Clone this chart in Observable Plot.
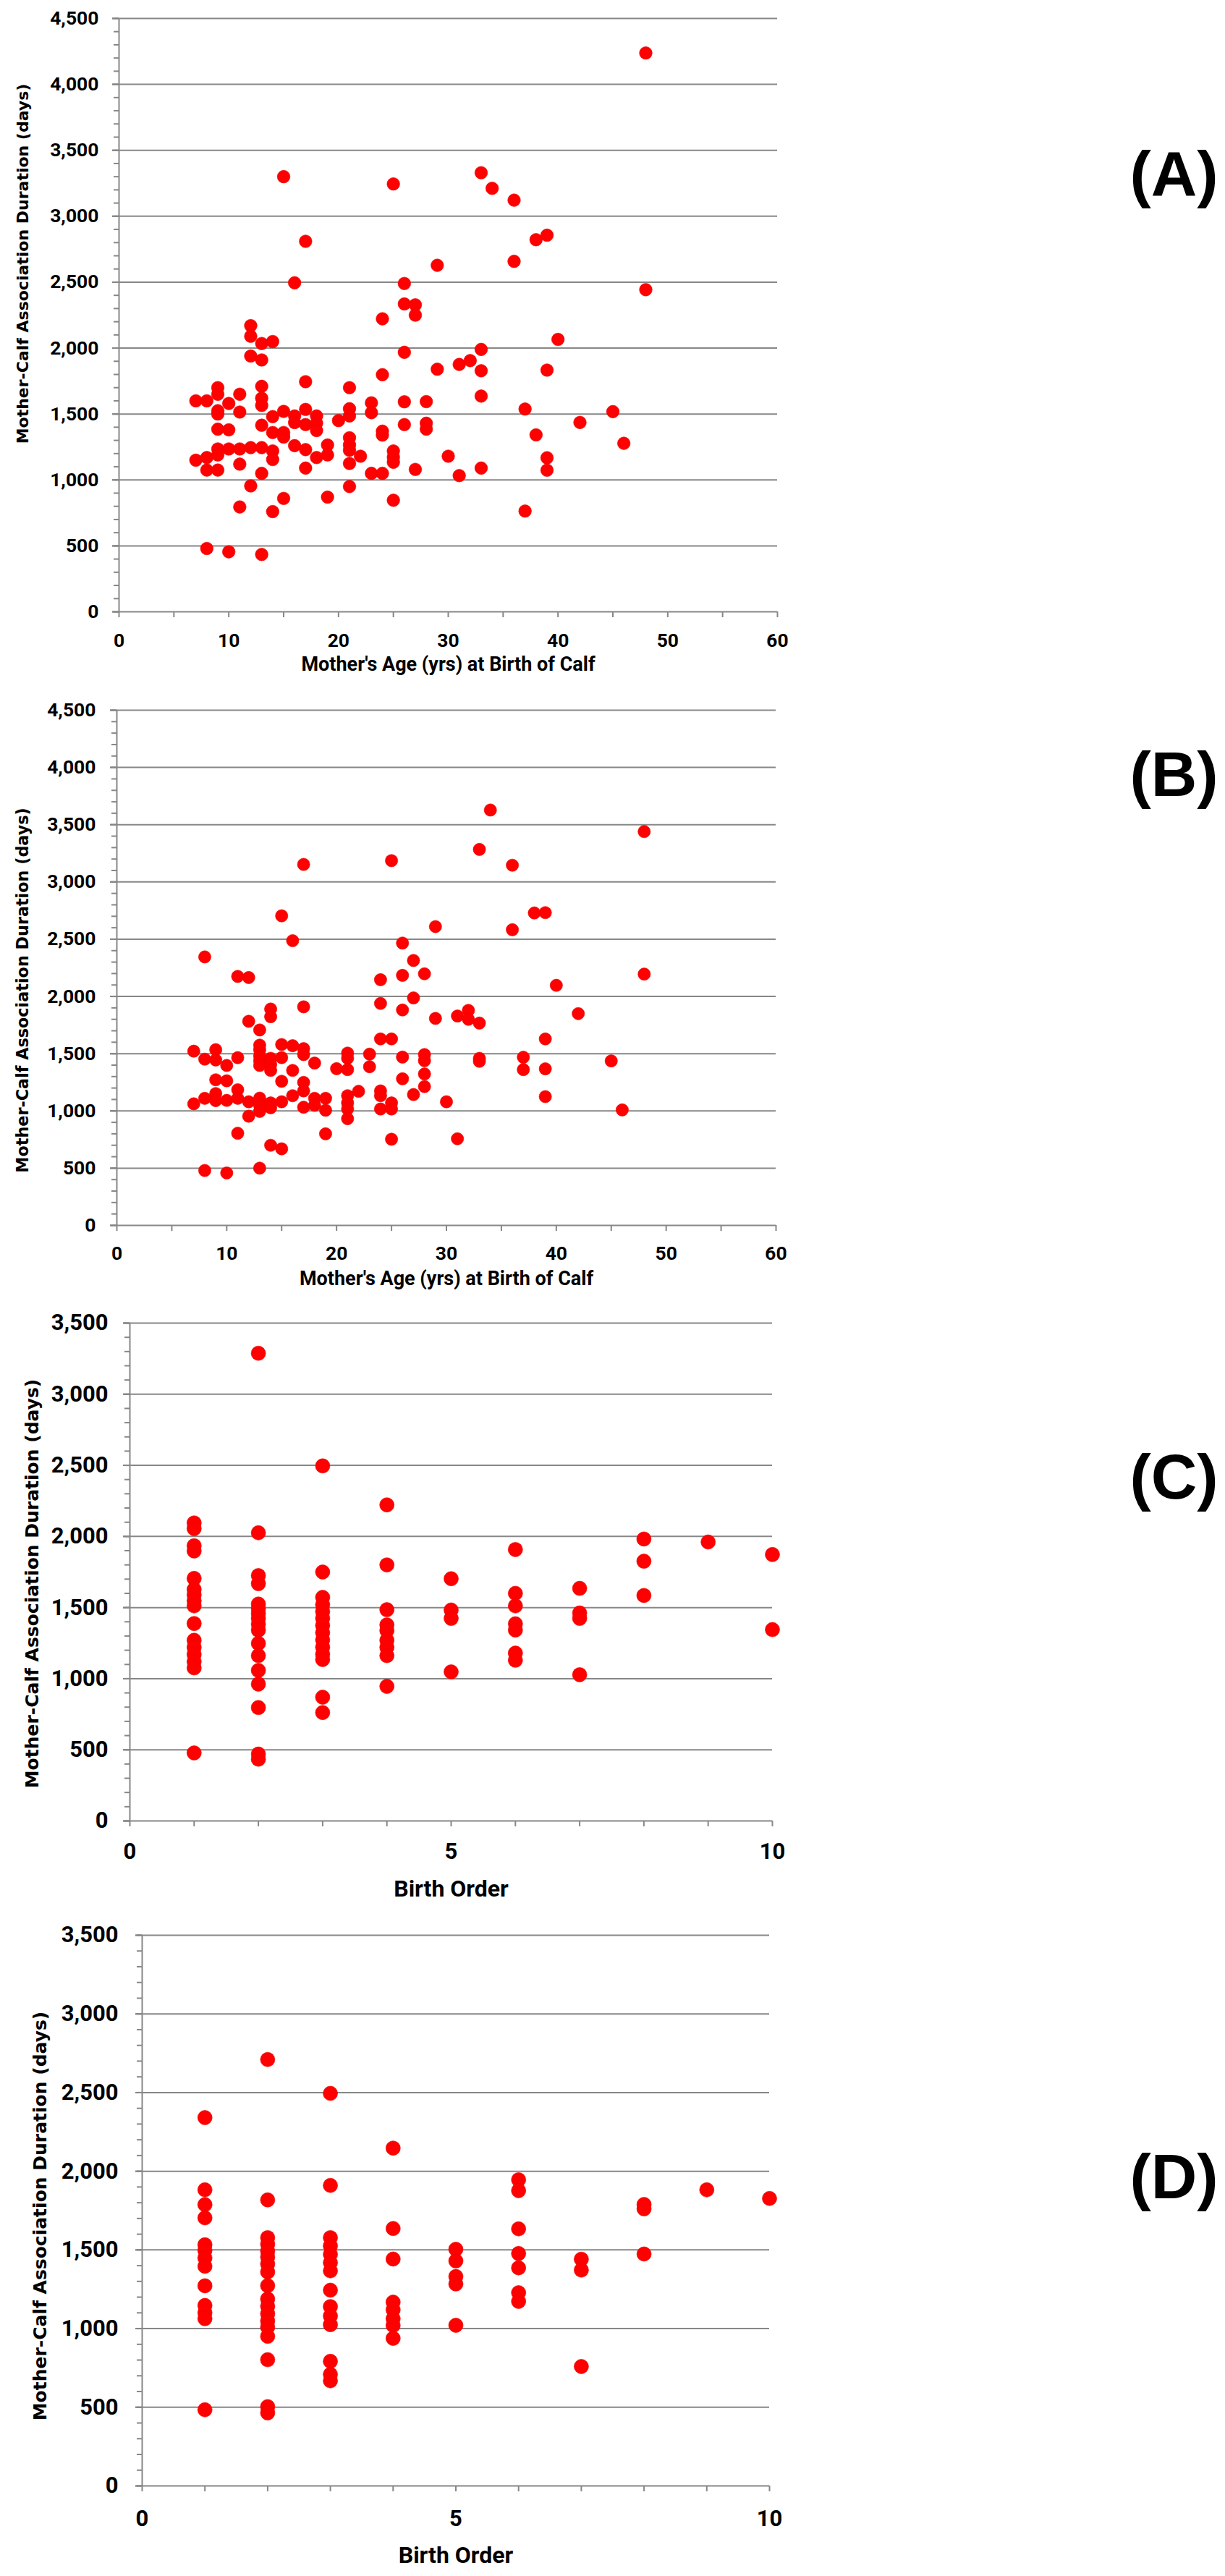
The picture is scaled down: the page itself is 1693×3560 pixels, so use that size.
<!DOCTYPE html>
<html>
<head>
<meta charset="utf-8">
<script src="https://cdn.jsdelivr.net/npm/d3@7"></script>
<script src="https://cdn.jsdelivr.net/npm/@observablehq/plot@0.6"></script>
<style>
  html, body { margin: 0; padding: 0; background: #fff; }
  #chart { width: 1693px; }
  #chart svg { display: block; }
</style>
</head>
<body>
<div id="chart"></div>
<script>
// ---------- Data ----------
// Panel A: mother's age at birth of calf vs association duration
const ageA = [7, 8, 9, 10, 11, 12, 13, 14, 15, 16, 17, 18, 19, 20, 21, 22, 23, 24, 25, 26, 27, 28, 29, 30, 31, 32, 33, 34, 36, 37, 38, 39, 40, 42, 45, 46, 48];
const durA = [
  [1600, 1150],
  [1600, 1170, 1075, 480],
  [1700, 1650, 1525, 1500, 1385, 1235, 1190, 1075],
  [1580, 1380, 1235, 455],
  [1650, 1515, 1235, 1120, 795],
  [2170, 2090, 1940, 1245, 955],
  [2035, 1910, 1710, 1620, 1565, 1415, 1245, 1050, 435],
  [2050, 1480, 1360, 1220, 1155, 760],
  [3300, 1520, 1360, 1325, 860],
  [2495, 1485, 1435, 1260],
  [2810, 1745, 1535, 1420, 1230, 1090],
  [1485, 1430, 1375, 1170],
  [1265, 1190, 870],
  [1450],
  [1700, 1540, 1485, 1320, 1265, 1225, 1125, 950],
  [1180],
  [1585, 1510, 1050],
  [2222, 1798, 1370, 1340, 1050],
  [3245, 1220, 1172, 1134, 846],
  [2490, 2335, 1968, 1593, 1420],
  [2328, 2250, 1080],
  [1594, 1430, 1385],
  [2628, 1840],
  [1180],
  [1876, 1033],
  [1905],
  [3330, 1990, 1828, 1636, 1090],
  [3212],
  [3122, 2658],
  [1538, 764],
  [2822, 1342],
  [2856, 1833, 1168, 1074],
  [2066],
  [1436],
  [1518],
  [1278],
  [4238, 2443]
];

// Panel B: mother's age at birth of calf vs association duration
const ageB = [7, 8, 9, 10, 11, 12, 13, 14, 15, 16, 17, 18, 19, 20, 21, 22, 23, 24, 25, 26, 27, 28, 29, 30, 31, 32, 33, 34, 36, 37, 38, 39, 40, 42, 45, 46, 48];
const durB = [
  [1522, 1062],
  [2345, 1452, 1110, 480],
  [1535, 1445, 1272, 1152, 1090],
  [1397, 1263, 1092, 458],
  [2175, 1465, 1185, 1110, 805],
  [2165, 1783, 1080, 954],
  [1707, 1575, 1533, 1480, 1438, 1397, 1112, 1049, 996, 500],
  [1890, 1823, 1460, 1405, 1354, 1070, 1027, 700],
  [2704, 1580, 1466, 1259, 1080, 669],
  [2487, 1570, 1354, 1133],
  [3153, 1909, 1544, 1492, 1249, 1175, 1032],
  [1418, 1110, 1049],
  [1110, 1006, 800],
  [1369],
  [1505, 1460, 1361, 1133, 1070, 1017, 932],
  [1171],
  [1496, 1386],
  [2146, 1939, 1629, 1175, 1133, 1017],
  [3186, 1629, 1070, 1017, 753],
  [2466, 2184, 1882, 1470, 1281],
  [2314, 1987, 1143],
  [2198, 1492, 1439, 1323, 1213],
  [2610, 1808],
  [1080],
  [1829, 757],
  [1878, 1800],
  [3284, 1767, 1459, 1433],
  [3628],
  [3146, 2583],
  [1469, 1361],
  [2729],
  [2732, 1629, 1368, 1125],
  [2097],
  [1850],
  [1437],
  [1009],
  [3440, 2195]
];

// Panel C: birth order vs association duration
const orderC = [1, 2, 3, 4, 5, 6, 7, 8, 9, 10];
const durC = [
  [2095, 2055, 1935, 1898, 1705, 1628, 1590, 1548, 1512, 1388, 1270, 1220, 1170, 1120, 1076, 478],
  [3288, 2026, 1725, 1668, 1525, 1492, 1458, 1425, 1384, 1341, 1248, 1162, 1058, 962, 797, 470, 434],
  [2496, 1750, 1572, 1520, 1472, 1425, 1375, 1324, 1273, 1222, 1172, 1135, 870, 762],
  [2222, 1800, 1485, 1378, 1338, 1270, 1220, 1162, 946],
  [1703, 1483, 1424, 1048],
  [1908, 1600, 1512, 1386, 1342, 1180, 1130],
  [1635, 1462, 1424, 1028],
  [1982, 1826, 1585],
  [1961],
  [1873, 1345]
];

// Panel D: birth order vs association duration
const orderD = [1, 2, 3, 4, 5, 6, 7, 8, 9, 10];
const durD = [
  [2341, 1882, 1788, 1704, 1533, 1497, 1449, 1396, 1272, 1147, 1101, 1063, 484],
  [2710, 1818, 1578, 1536, 1492, 1455, 1411, 1360, 1273, 1188, 1142, 1094, 1048, 1009, 951, 802, 504, 464],
  [2495, 1910, 1578, 1526, 1472, 1419, 1367, 1244, 1140, 1080, 1025, 792, 709, 668],
  [2147, 1636, 1442, 1168, 1120, 1063, 1020, 938],
  [1504, 1430, 1331, 1284, 1021],
  [1946, 1877, 1634, 1477, 1386, 1228, 1173],
  [1441, 1372, 759],
  [1789, 1761, 1474],
  [1882],
  [1827]
];

// Axis tick values and text
const yTicksAB = d3.range(0, 4501, 500);
const yMinorAB = d3.range(0, 4501, 100);
const yTicksCD = d3.range(0, 3501, 500);
const yMinorCD = d3.range(0, 3501, 100);
const xTicksAB = d3.range(0, 61, 5);
const xLabelsAB = [0, 10, 20, 30, 40, 50, 60];
const xTicksCD = d3.range(0, 11, 1);
const xLabelsCD = [0, 5, 10];
const yTitle = "Mother-Calf Association Duration (days)";
const xTitleAge = "Mother's Age (yrs) at Birth of Calf";
const xTitleOrder = "Birth Order";
const letters = ["(A)", "(B)", "(C)", "(D)"];

// ---------- Drawing ----------
const W = 1693;
const GRID = "#878787";
const TICK_FONT = "Roboto, 'Liberation Sans', sans-serif";
const TITLE_FONT = "'DejaVu Sans', Verdana, sans-serif";
const LETTER_FONT = "'Liberation Sans', Arial, sans-serif";

function flatten(xs, ys) {
  return xs.flatMap((x, i) => ys[i].map(y => ({x, y})));
}

function panel(cfg) {
  const H = cfg.band[1] - cfg.band[0];
  const data = flatten(cfg.xs, cfg.ys);
  const midY = (cfg.top + cfg.bottom) / 2;
  const labelSet = new Set(cfg.xLabels);
  return Plot.plot({
    width: W,
    height: H,
    marginTop: cfg.top - cfg.band[0],
    marginBottom: cfg.band[1] - cfg.bottom,
    marginLeft: cfg.left,
    marginRight: W - cfg.right,
    style: {background: "#fff", overflow: "visible"},
    x: {domain: cfg.xDomain, axis: null},
    y: {domain: cfg.yDomain, axis: null},
    marks: [
      // horizontal gridlines (extend out to the tick length)
      Plot.ruleY(cfg.yTicks, {stroke: GRID, strokeWidth: 2, insetLeft: -9}),
      // minor y ticks
      Plot.axisY({ticks: cfg.yMinor, tickSize: 7, tickFormat: () => "", stroke: GRID, strokeWidth: 2, label: null}),
      // major y ticks + labels
      Plot.axisY({
        ticks: cfg.yTicks, tickSize: 9, tickPadding: cfg.yPad,
        tickFormat: d3.format(","), stroke: GRID, strokeWidth: 2, fill: "#000",
        fontSize: cfg.tickFont, fontFamily: TICK_FONT, fontWeight: "bold", label: null
      }),
      // x ticks + labels
      Plot.axisX({
        ticks: cfg.xTicks, tickSize: 8, tickPadding: cfg.xPad,
        tickFormat: d => labelSet.has(d) ? String(d) : "",
        stroke: GRID, strokeWidth: 2, fill: "#000",
        fontSize: cfg.tickFont, fontFamily: TICK_FONT, fontWeight: "bold", label: null
      }),
      // y axis line
      Plot.ruleX([cfg.xDomain[0]], {stroke: GRID, strokeWidth: 2}),
      // data points
      Plot.dot(data, {x: "x", y: "y", r: cfg.r, fill: "#ff0000", stroke: "#ee0000", strokeWidth: 0.6}),
      // y-axis title
      Plot.text([yTitle], {
        text: d => d, frameAnchor: "left", dx: cfg.yTitleX - cfg.left, dy: cfg.yTitleY - midY,
        rotate: -90, textAnchor: "middle", lineAnchor: "middle",
        fontFamily: TITLE_FONT, fontWeight: "bold", fontSize: cfg.yTitleFont, fill: "#000"
      }),
      // x-axis title
      Plot.text([cfg.xTitle], {
        text: d => d, frameAnchor: "bottom", dy: cfg.xTitleY - cfg.bottom,
        textAnchor: "middle", lineAnchor: "middle",
        fontFamily: TICK_FONT, fontWeight: "bold", fontSize: cfg.xTitleFont, fill: "#000"
      }),
      // panel letter
      Plot.text([cfg.letter], {
        text: d => d, frameAnchor: "top-left", dx: 1622 - cfg.left, dy: cfg.letterY - cfg.top,
        textAnchor: "middle", lineAnchor: "middle",
        fontFamily: LETTER_FONT, fontWeight: "bold", fontSize: 88, fill: "#000"
      })
    ]
  });
}

const panels = [
  {band: [0, 955], top: 25, bottom: 845, left: 164, right: 1074, xDomain: [0, 60], yDomain: [0, 4500],
   xs: ageA, ys: durA, r: 8.8, yTicks: yTicksAB, yMinor: yMinorAB, xTicks: xTicksAB, xLabels: xLabelsAB,
   tickFont: 26.5, yPad: 19, xPad: 22, yTitleX: 31, yTitleY: 364, yTitleFont: 22,
   xTitle: xTitleAge, xTitleY: 918, xTitleFont: 27, letter: letters[0], letterY: 241},
  {band: [955, 1800], top: 981, bottom: 1693, left: 161, right: 1072, xDomain: [0, 60], yDomain: [0, 4500],
   xs: ageB, ys: durB, r: 8.6, yTicks: yTicksAB, yMinor: yMinorAB, xTicks: xTicksAB, xLabels: xLabelsAB,
   tickFont: 26.5, yPad: 20, xPad: 21, yTitleX: 31, yTitleY: 1368, yTitleFont: 22.3,
   xTitle: xTitleAge, xTitleY: 1767, xTitleFont: 27, letter: letters[1], letterY: 1071},
  {band: [1800, 2650], top: 1828, bottom: 2516, left: 179, right: 1067, xDomain: [0, 10], yDomain: [0, 3500],
   xs: orderC, ys: durC, r: 10, yTicks: yTicksCD, yMinor: yMinorCD, xTicks: xTicksCD, xLabels: xLabelsCD,
   tickFont: 31, yPad: 21, xPad: 22, yTitleX: 44, yTitleY: 2188, yTitleFont: 25,
   xTitle: xTitleOrder, xTitleY: 2610, xTitleFont: 32, letter: letters[2], letterY: 2042},
  {band: [2650, 3560], top: 2674, bottom: 3435, left: 196, right: 1063, xDomain: [0, 10], yDomain: [0, 3500],
   xs: orderD, ys: durD, r: 10, yTicks: yTicksCD, yMinor: yMinorCD, xTicks: xTicksCD, xLabels: xLabelsCD,
   tickFont: 31, yPad: 24, xPad: 25, yTitleX: 55, yTitleY: 3062, yTitleFont: 25,
   xTitle: xTitleOrder, xTitleY: 3531, xTitleFont: 32, letter: letters[3], letterY: 3009}
];

const root = document.getElementById("chart");
for (const cfg of panels) root.appendChild(panel(cfg));
</script>
</body>
</html>
